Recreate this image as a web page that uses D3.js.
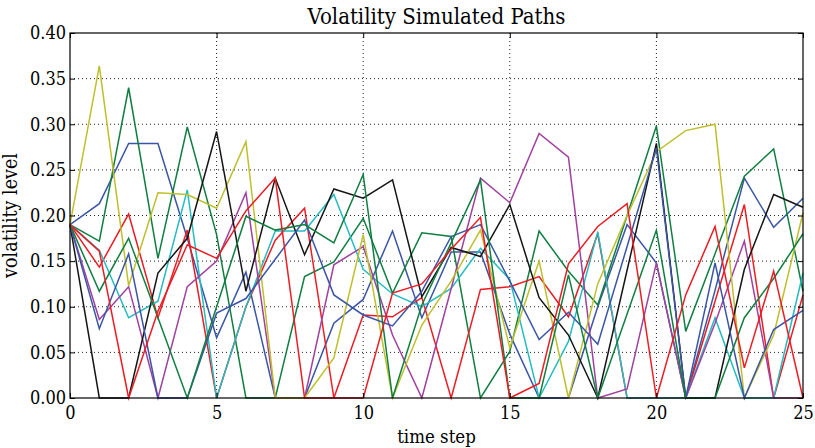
<!DOCTYPE html>
<html><head><meta charset="utf-8">
<script src="https://cdn.jsdelivr.net/npm/d3@7"></script>
<style>
body{margin:0;background:#fff;}
text{font-family:"DejaVu Serif Condensed","DejaVu Serif",serif;font-stretch:condensed;fill:#000;}
</style></head>
<body><svg id="c" width="815" height="448"></svg>
<script>
const steps = d3.range(0, 26);
const xTicks = [0, 5, 10, 15, 20, 25];
const yTicks = [0, 0.05, 0.10, 0.15, 0.20, 0.25, 0.30, 0.35, 0.40];

const blue1   = [.19,.213,.279,.279,.175,.066,.138,0,0,.082,.108,.183,.088,.16,.16,.07,0,0,.10,.19,.148,0,.118,.241,.187,.219];
const green1  = [.19,.172,.34,.153,.297,.179,0,0,.133,.149,.197,.115,.181,.177,0,.051,.183,.139,.102,.2,.298,.073,.158,.243,.273,.117];
const red1    = [.19,.1435,.2016,.088,.184,0,.10,.173,.208,0,.091,.089,.11,0,.119,.122,.133,.089,.18,0,0,0,.106,.212,0,.113];
const cyan1   = [.19,.162,.088,.106,.228,0,.10,.183,.183,.223,.141,.114,.100,.12,.164,.13,0,.062,.182,0,0,0,.088,0,0,.137];
const magenta1= [.19,.086,.122,0,.122,.150,.225,0,0,.146,.166,.069,0,.12,.241,.214,.29,.264,0,.01,.148,0,.082,.172,0,0];
const yellow1 = [.19,.364,.123,.225,.223,.208,.281,0,0,.044,.179,0,.08,.128,.184,.055,.150,0,.125,.2,.27,.293,.30,0,.069,.203];
const black1  = [.19,0,0,.137,.175,.292,.117,.241,.157,.229,.219,.239,.111,.165,.155,.212,.110,.069,0,.14,.279,0,0,.141,.223,.209];
const blue2   = [.19,.076,.158,0,0,.093,.109,.152,.195,.113,.091,.079,.117,.177,.19,.128,.064,.094,.059,.166,.274,0,.148,0,.075,.096];
const green2  = [.19,.117,.175,.088,0,.10,.199,.184,.19,.17,.245,0,.102,.17,.239,0,0,.135,0,.092,.184,0,0,.088,.131,.18];
const red2    = [.19,.161,0,.095,.168,.153,.205,.241,0,0,0,.115,.125,.163,.198,0,.016,.147,.188,.213,0,.113,.188,.033,.139,0];

const paths = [blue1, green1, red1, cyan1, magenta1, yellow1, black1, blue2, green2, red2];
const colors = ["#3a55a6","#0f7f40","#ec1c24","#24bcc0","#a0419e","#bfbf2c","#151515","#3a55a6","#0f7f40","#ec1c24"];

const L = 70, R = 803, T = 33, B = 398;
const svg = d3.select("#c");
const x = d3.scaleLinear().domain([0, 25]).range([L, R]);
const y = d3.scaleLinear().domain([0, 0.40]).range([B, T]);

// grid
const g = svg.append("g");
g.selectAll("line.gx").data(xTicks.slice(1, -1)).join("line")
  .attr("x1", d => x(d)).attr("x2", d => x(d)).attr("y1", T).attr("y2", B)
  .attr("stroke", "#222").attr("stroke-width", 1).attr("stroke-dasharray", "1,3");
g.selectAll("line.gy").data(yTicks.slice(1, -1)).join("line")
  .attr("y1", d => y(d)).attr("y2", d => y(d)).attr("x1", L).attr("x2", R)
  .attr("stroke", "#222").attr("stroke-width", 1).attr("stroke-dasharray", "1,3");

// lines
const line = d3.line().x((d, i) => x(steps[i])).y(d => y(d));
svg.append("g").selectAll("path").data(paths).join("path")
  .attr("d", d => line(d)).attr("fill", "none")
  .attr("stroke", (d, i) => colors[i]).attr("stroke-width", 1.5)
  .attr("stroke-linejoin", "miter");

// frame
svg.append("rect").attr("x", L).attr("y", T).attr("width", R - L).attr("height", B - T)
  .attr("fill", "none").attr("stroke", "#000").attr("stroke-width", 1.2);

// axes (ticks inward on all sides)
const ax = svg.append("g").attr("transform", `translate(0,${B})`)
  .call(d3.axisBottom(x).tickValues(xTicks).tickFormat(d3.format("d")).tickSizeInner(-5).tickSizeOuter(0).tickPadding(8));
const axT = svg.append("g").attr("transform", `translate(0,${T})`)
  .call(d3.axisTop(x).tickValues(xTicks).tickFormat("").tickSizeInner(-5).tickSizeOuter(0));
const ay = svg.append("g").attr("transform", `translate(${L},0)`)
  .call(d3.axisLeft(y).tickValues(yTicks).tickFormat(d3.format(".2f")).tickSizeInner(-5).tickSizeOuter(0).tickPadding(4));
const ayR = svg.append("g").attr("transform", `translate(${R},0)`)
  .call(d3.axisRight(y).tickValues(yTicks).tickFormat("").tickSizeInner(-5).tickSizeOuter(0));
[ax, axT, ay, ayR].forEach(a => { a.select(".domain").remove(); a.selectAll("line").attr("stroke", "#000"); });
ax.selectAll("text").attr("font-size", 18);
ay.selectAll("text").attr("font-size", 18);
svg.selectAll(".tick text").attr("font-family", null);

svg.append("text").attr("x", (L + R) / 2).attr("y", 24).attr("text-anchor", "middle")
  .attr("font-size", 22).text("Volatility Simulated Paths");
svg.append("text").attr("x", (L + R) / 2).attr("y", 443).attr("text-anchor", "middle")
  .attr("font-size", 18.5).text("time step");
svg.append("text").attr("transform", `translate(17,${(T + B) / 2}) rotate(-90)`).attr("text-anchor", "middle")
  .attr("font-size", 19.5).text("volatility level");
</script></body></html>
